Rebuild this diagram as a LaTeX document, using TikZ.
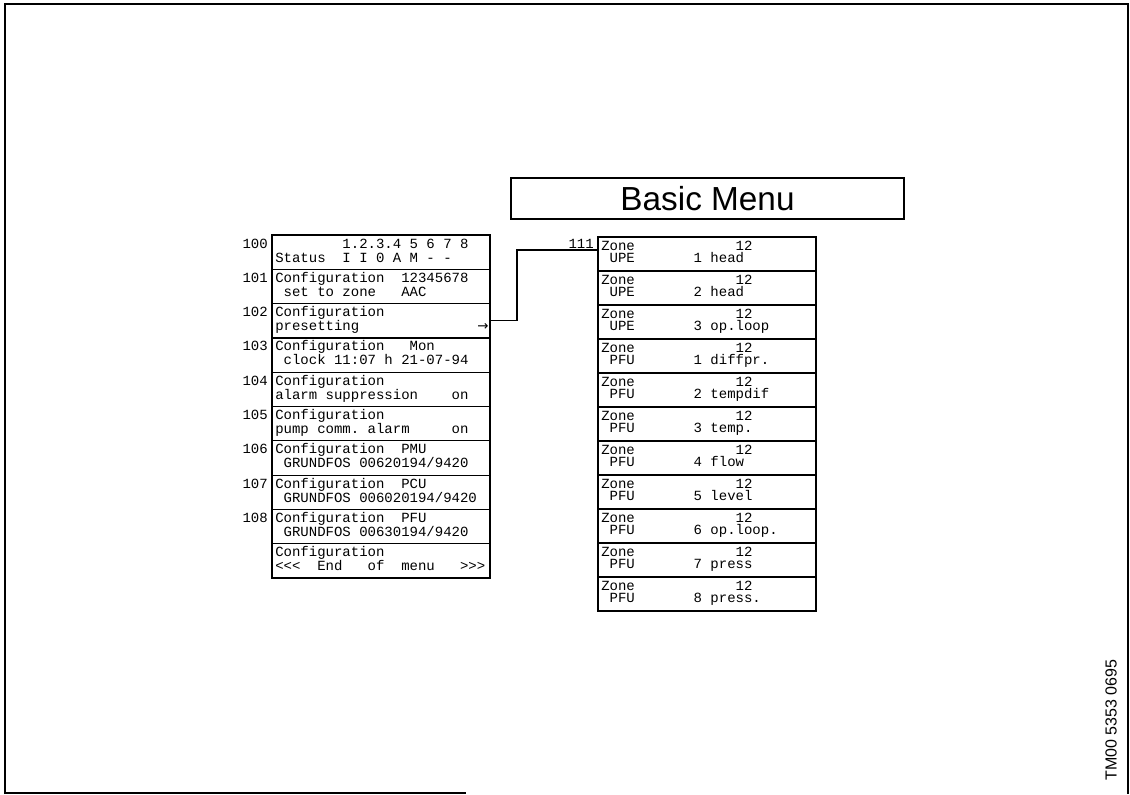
\documentclass[tikz,border=0pt]{standalone}
\usepackage{fontspec}
\usetikzlibrary{calc}
\newfontfamily\monof{Liberation Mono}
\newfontfamily\sansf{Liberation Sans}
\newfontfamily\djvf{DejaVu Sans}
\tikzset{
  cellL/.style={draw, line width=0.9pt, anchor=north west, inner sep=0pt, outer sep=0pt,
    minimum width=163.5pt, minimum height=25.725pt},
  cellR/.style={draw, line width=0.9pt, anchor=north west, inner sep=0pt, outer sep=0pt,
    minimum width=163.5pt, minimum height=25.5pt},
  tl/.style={anchor=base west, inner sep=0pt, font=\monof\fontsize{10.5}{12}\selectfont},
  num/.style={anchor=base east, inner sep=0pt, font=\monof\fontsize{10.5}{12}\selectfont},
  conn/.style={line width=0.8pt},
  frame/.style={line width=2.2pt},
}
\newcommand{\lrow}[4]{%
  \node[num] (n#1) at ($(L#1.north west)+(-4,13)$) {#2};
  \node[tl] (a#1) at ($(L#1.north west)+(3,13)$) {#3};
  \node[tl] (b#1) at ($(L#1.north west)+(3,27)$) {#4};}
\newcommand{\rrow}[2]{%
  \node[tl] (za#1) at ($(R#1.north west)+(3,13)$) {Zone~~~~~~~~~~~~12};
  \node[tl] (zb#1) at ($(R#1.north west)+(3,25)$) {#2};}
\begin{document}
\begin{tikzpicture}[x=0.75pt,y=-0.75pt]
\useasboundingbox (0,0) rectangle (1130,794);
% frame
\draw[frame] (5,794) -- (5,4) -- (1128,4) -- (1128,794);
\draw[line width=1.5pt] (5,792.5) -- (466,792.5);
% title
\node[draw, line width=0.9pt, minimum width=294.75pt, minimum height=30.75pt, inner sep=0pt,
  font=\sansf\fontsize{25}{30}\selectfont] (title) at (707.5,198.5) {Basic Menu\hspace{7pt}};
% left cells
\foreach \k in {0,...,9} { \node[cellL] (L\k) at (272,{235+34.3*\k}) {}; }
\lrow{0}{100}{~~~~~~~~1.2.3.4~5~6~7~8}{Status~~I~I~0~A~M~-~-}
\lrow{1}{101}{Configuration~~12345678}{~set~to~zone~~~AAC}
\lrow{2}{102}{Configuration}{presetting}
\lrow{3}{103}{Configuration~~~Mon}{~clock~11:07~h~21-07-94}
\lrow{4}{104}{Configuration}{alarm~suppression~~~~on}
\lrow{5}{105}{Configuration}{pump~comm.~alarm~~~~~on}
\lrow{6}{106}{Configuration~~PMU}{~GRUNDFOS~00620194/9420}
\lrow{7}{107}{Configuration~~PCU}{~GRUNDFOS~006020194/9420}
\lrow{8}{108}{Configuration~~PFU}{~GRUNDFOS~00630194/9420}
\node[tl] (a9) at ($(L9.north west)+(3,13)$) {Configuration};
\node[tl] (b9) at ($(L9.north west)+(3,27)$) {<{}<{}<~~End~~~of~~menu~~~>{}>{}>};
\node[tl, font=\djvf\fontsize{10}{12}\selectfont] (arr) at ($(L2.north west)+(205,27)$) {→};
% right cells
\foreach \k in {0,...,10} { \node[cellR] (R\k) at (598,{237+34*\k}) {}; }
\rrow{0}{~UPE~~~~~~~1~head}
\rrow{1}{~UPE~~~~~~~2~head}
\rrow{2}{~UPE~~~~~~~3~op.loop}
\rrow{3}{~PFU~~~~~~~1~diffpr.}
\rrow{4}{~PFU~~~~~~~2~tempdif}
\rrow{5}{~PFU~~~~~~~3~temp.}
\rrow{6}{~PFU~~~~~~~4~flow}
\rrow{7}{~PFU~~~~~~~5~level}
\rrow{8}{~PFU~~~~~~~6~op.loop.}
\rrow{9}{~PFU~~~~~~~7~press}
\rrow{10}{~PFU~~~~~~~8~press.}
\node[num] (n111) at ($(R0.west)+(-4,-6)$) {111};
% connector
\draw[conn] (L2.east) -- ++(27,0) coordinate (jn) |- ($(R0.west)+(0,-4)$);
% code
\node[rotate=90, inner sep=0pt, font=\sansf\fontsize{12}{14}\selectfont] (code) at (1111,720) {TM00 5353 0695};
\end{tikzpicture}
\end{document}
